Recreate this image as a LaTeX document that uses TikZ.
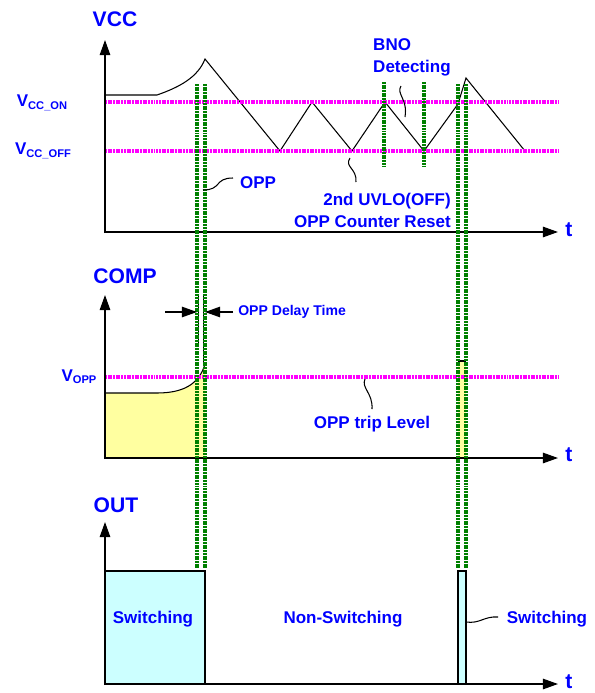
\documentclass[tikz,border=0pt]{standalone}
\usepackage{fontspec}
\setmainfont{Liberation Sans}
\usetikzlibrary{arrows.meta}
\definecolor{oppgreen}{RGB}{0,128,0}
\definecolor{lvlmagenta}{RGB}{255,0,255}
\definecolor{compyellow}{RGB}{255,255,160}
\definecolor{outcyan}{RGB}{204,255,255}
\newcommand\subtxt[1]{\raisebox{-2pt}{\fontsize{9.5}{10}\selectfont#1}}
\begin{document}
\begin{tikzpicture}[x=0.03cm,y=-0.03cm,
  sig/.style={line width=0.9pt},
  axisarr/.style={line width=1.2pt,-{Triangle[length=13pt,width=9pt]}},
  delayarr/.style={line width=1pt,-{Triangle[length=13pt,width=9pt]}},
  lvl/.style={lvlmagenta,line width=2.6pt,dash pattern=on 1.7pt off 0.6pt},
  oppmark/.style={oppgreen,line width=2.6pt,dash pattern=on 1.7pt off 0.6pt},
  lbl/.style={text=blue,font=\bfseries\fontsize{14.5}{18.8}\selectfont},
  biglbl/.style={text=blue,font=\bfseries\fontsize{18}{20}\selectfont}]
\useasboundingbox (0,0) rectangle (595,693);

\fill[compyellow] (105,458) -- (105,393) -- (157,393) .. controls (182,393) and (199,385) .. (205,364) -- (205,458) -- cycle;
\fill[compyellow] (458,361) rectangle (466,458);
\draw[sig] (105,393) -- (157,393) .. controls (182,393) and (199,385) .. (205,364);
\draw[sig] (458,361) -- (466,361);
\draw[sig] (198.5,296) -- (198.5,345);
\draw[sig] (203.5,296) -- (203.5,365);
\draw[sig,fill=outcyan] (105,571) rectangle (205,684);
\draw[sig,fill=outcyan] (458,571) rectangle (466,684);

\draw[sig] (105,95) -- (157,95) .. controls (180,87) and (198,77) .. (205,59) -- (280,151) -- (312,102) -- (352,151) -- (385,102) -- (424,151) -- (458,104) -- (466,78) -- (525,151);

\draw[lvl] (105,102) -- (558,102);
\draw[lvl] (105,151) -- (558,151);
\draw[lvl] (105,377) -- (558,377);

\draw[axisarr] (105,233) -- (105,40);
\draw[axisarr] (105,232) -- (558,232);
\draw[axisarr] (105,459) -- (105,295);
\draw[axisarr] (105,458) -- (558,458);
\draw[axisarr] (105,685) -- (105,522);
\draw[axisarr] (105,684) -- (558,684);

\foreach \x in {197,205,458,466} \draw[oppmark] (\x,84) -- (\x,568);
\foreach \x in {384,424} \draw[oppmark] (\x,82) -- (\x,167);

\node[biglbl] (vccAx) at (115,19) {VCC};
\node[biglbl] (compAx) at (125,276) {COMP};
\node[biglbl] (outAx) at (116,505) {OUT};
\foreach \y/\n in {230/tVcc,455/tComp,682/tOut} \node[biglbl] (\n) at (569,\y) {t};

\node[lbl] (vccOn) at (42,103) {V\subtxt{CC\_ON}};
\node[lbl] (vccOff) at (43,151) {V\subtxt{CC\_OFF}};
\node[lbl] (vOpp) at (79,377) {V\subtxt{OPP}};

\node[lbl] (oppLbl) at (258,183) {OPP};
\node[lbl,align=left,anchor=west,inner sep=0] (bnoLbl) at (373,57) {BNO\\Detecting};
\node[lbl,align=right,anchor=east,inner sep=0] (uvloLbl) at (451,210) {2nd UVLO(OFF)\\OPP Counter Reset};
\node[lbl] (tripLbl) at (372,424) {OPP trip Level};
\node[lbl,font=\bfseries\fontsize{12}{14}\selectfont,anchor=west,inner sep=4.3pt] (dlyLbl) at (233,312) {OPP Delay Time};
\node[lbl] (swA) at (153,619) {Switching};
\node[lbl] (nonSw) at (343,619) {Non-Switching};
\node[lbl] (swB) at (547,619) {Switching};

\coordinate (dlyA) at (165,312);
\draw[delayarr] (dlyA) -- (197,312);
\draw[delayarr] (dlyLbl.west) -- (205,312);

\coordinate (oppA) at (203,190);
\coordinate (oppB) at (233,178);
\draw[sig] (oppA) .. controls (222,190) and (214,178) .. (oppB);
\coordinate (bnoA) at (405,117);
\coordinate (bnoB) at (401,86);
\draw[sig] (bnoB) .. controls (396,94) and (408,99) .. (bnoA);
\coordinate (uvloA) at (350,158);
\coordinate (uvloB) at (356,182);
\draw[sig] (uvloA) .. controls (344,167) and (357,168) .. (uvloB);
\coordinate (tripA) at (365,379);
\coordinate (tripB) at (372,409);
\draw[sig] (tripA) .. controls (361,388) and (373,393) .. (tripB);
\coordinate (swOut) at (466,622);
\coordinate (swEnd) at (498,617);
\draw[sig] (swOut) .. controls (480,624) and (484,616) .. (swEnd);
\end{tikzpicture}
\end{document}
